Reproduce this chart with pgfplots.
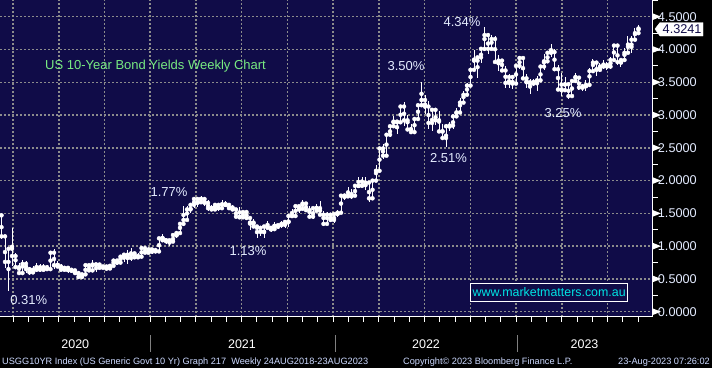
\documentclass[border=0pt]{standalone}
\usepackage{pgfplots}
\pgfplotsset{compat=1.18}
\usepackage{pgfplotstable}
\usepackage{fontspec}
\setmainfont{Liberation Sans}
\definecolor{navy}{RGB}{16,12,72}
\definecolor{gridgray}{RGB}{140,140,140}
\definecolor{annot}{RGB}{228,236,255}
\definecolor{titlegreen}{RGB}{120,235,130}
\definecolor{webcyan}{RGB}{0,228,228}
\definecolor{foot}{RGB}{205,218,255}

\pgfplotstableread{
i o h l c
0 1.47 1.47 1.11 1.15
1 1.15 1.16 0.66 0.76
2 0.76 0.99 0.31 0.96
3 0.96 1.28 0.70 0.85
4 0.85 0.90 0.67 0.68
5 0.68 0.75 0.56 0.59
6 0.59 0.79 0.59 0.73
7 0.73 0.78 0.59 0.65
8 0.65 0.67 0.56 0.60
9 0.60 0.69 0.58 0.64
10 0.64 0.74 0.60 0.68
11 0.68 0.73 0.60 0.64
12 0.64 0.73 0.63 0.66
13 0.66 0.72 0.64 0.65
14 0.65 0.91 0.65 0.90
15 0.90 0.96 0.65 0.71
16 0.71 0.77 0.66 0.69
17 0.69 0.73 0.62 0.64
18 0.64 0.70 0.62 0.67
19 0.67 0.68 0.59 0.64
20 0.64 0.65 0.60 0.63
21 0.63 0.64 0.56 0.59
22 0.59 0.62 0.53 0.53
23 0.53 0.58 0.50 0.57
24 0.57 0.73 0.55 0.71
25 0.71 0.71 0.62 0.63
26 0.63 0.79 0.62 0.72
27 0.72 0.73 0.60 0.72
28 0.72 0.72 0.65 0.67
29 0.67 0.71 0.65 0.69
30 0.69 0.69 0.63 0.66
31 0.66 0.70 0.64 0.70
32 0.70 0.79 0.70 0.78
33 0.78 0.79 0.71 0.75
34 0.75 0.87 0.74 0.84
35 0.84 0.89 0.76 0.87
36 0.87 0.94 0.73 0.82
37 0.82 0.97 0.77 0.89
38 0.89 0.91 0.81 0.83
39 0.83 0.89 0.81 0.84
40 0.84 0.98 0.83 0.97
41 0.97 0.97 0.88 0.90
42 0.90 0.95 0.89 0.95
43 0.95 0.95 0.88 0.94
44 0.94 0.95 0.90 0.92
45 0.92 1.13 0.90 1.12
46 1.12 1.19 1.06 1.09
47 1.09 1.11 1.04 1.09
48 1.09 1.10 1.01 1.07
49 1.07 1.17 1.05 1.17
50 1.17 1.21 1.12 1.20
51 1.20 1.36 1.20 1.34
52 1.34 1.61 1.34 1.40
53 1.40 1.62 1.38 1.56
54 1.56 1.64 1.50 1.63
55 1.63 1.75 1.58 1.72
56 1.72 1.72 1.60 1.67
57 1.67 1.77 1.67 1.72
58 1.72 1.74 1.61 1.66
59 1.66 1.70 1.53 1.58
60 1.58 1.63 1.53 1.56
61 1.56 1.66 1.54 1.63
62 1.63 1.63 1.53 1.58
63 1.58 1.70 1.58 1.63
64 1.63 1.69 1.60 1.63
65 1.63 1.63 1.55 1.58
66 1.58 1.63 1.55 1.56
67 1.56 1.57 1.43 1.45
68 1.45 1.59 1.44 1.44
69 1.44 1.53 1.42 1.52
70 1.52 1.52 1.42 1.43
71 1.43 1.44 1.25 1.36
72 1.36 1.42 1.27 1.30
73 1.30 1.30 1.13 1.28
74 1.28 1.30 1.15 1.22
75 1.22 1.30 1.13 1.30
76 1.30 1.38 1.27 1.28
77 1.28 1.29 1.22 1.26
78 1.26 1.37 1.25 1.31
79 1.31 1.33 1.26 1.32
80 1.32 1.38 1.28 1.34
81 1.34 1.38 1.27 1.37
82 1.37 1.46 1.29 1.46
83 1.46 1.56 1.45 1.46
84 1.46 1.62 1.46 1.61
85 1.61 1.62 1.50 1.57
86 1.57 1.70 1.56 1.65
87 1.65 1.67 1.52 1.55
88 1.55 1.61 1.43 1.45
89 1.45 1.59 1.41 1.58
90 1.58 1.64 1.53 1.54
91 1.54 1.69 1.47 1.48
92 1.48 1.53 1.33 1.34
93 1.34 1.52 1.34 1.48
94 1.48 1.48 1.38 1.40
95 1.40 1.50 1.36 1.49
96 1.49 1.55 1.44 1.51
97 1.51 1.80 1.50 1.77
98 1.77 1.80 1.70 1.77
99 1.77 1.90 1.74 1.76
100 1.76 1.87 1.72 1.77
101 1.77 1.93 1.75 1.92
102 1.92 2.06 1.90 1.92
103 1.92 2.06 1.91 1.93
104 1.93 2.05 1.85 1.97
105 1.97 1.97 1.68 1.73
106 1.73 2.01 1.71 2.00
107 2.00 2.24 1.99 2.15
108 2.15 2.50 2.14 2.49
109 2.49 2.56 2.33 2.38
110 2.38 2.72 2.38 2.70
111 2.70 2.84 2.66 2.83
112 2.83 2.98 2.80 2.90
113 2.90 2.92 2.71 2.89
114 2.89 3.13 2.88 3.13
115 3.13 3.20 2.84 2.92
116 2.92 3.00 2.78 2.78
117 2.78 2.86 2.71 2.74
118 2.74 2.96 2.73 2.94
119 2.94 3.16 2.94 3.15
120 3.15 3.50 3.15 3.23
121 3.23 3.31 3.01 3.13
122 3.13 3.21 2.79 2.88
123 2.88 3.10 2.75 3.08
124 3.08 3.08 2.85 2.92
125 2.92 3.06 2.74 2.75
126 2.75 2.86 2.64 2.65
127 2.65 2.86 2.51 2.83
128 2.83 2.90 2.75 2.84
129 2.84 3.00 2.78 2.98
130 2.98 3.11 2.95 3.04
131 3.04 3.26 3.04 3.19
132 3.19 3.36 3.19 3.31
133 3.31 3.49 3.29 3.45
134 3.45 3.71 3.45 3.69
135 3.69 4.00 3.69 3.83
136 3.83 3.89 3.57 3.88
137 3.88 4.04 3.80 4.01
138 4.01 4.34 3.98 4.22
139 4.22 4.25 3.93 4.01
140 4.01 4.22 3.99 4.16
141 4.16 4.21 3.80 3.81
142 3.81 3.91 3.67 3.83
143 3.83 3.86 3.67 3.68
144 3.68 3.75 3.42 3.49
145 3.49 3.62 3.41 3.58
146 3.58 3.61 3.40 3.48
147 3.48 3.76 3.48 3.75
148 3.75 3.90 3.71 3.87
149 3.87 3.88 3.55 3.56
150 3.56 3.62 3.41 3.50
151 3.50 3.55 3.32 3.48
152 3.48 3.55 3.45 3.50
153 3.50 3.60 3.37 3.53
154 3.53 3.74 3.50 3.74
155 3.74 3.93 3.68 3.82
156 3.82 3.96 3.80 3.95
157 3.95 4.09 3.89 3.96
158 3.96 4.01 3.68 3.70
159 3.70 3.76 3.37 3.39
160 3.39 3.64 3.29 3.38
161 3.38 3.58 3.35 3.47
162 3.47 3.49 3.25 3.29
163 3.29 3.52 3.29 3.52
164 3.52 3.64 3.52 3.57
165 3.57 3.58 3.38 3.42
166 3.42 3.47 3.37 3.44
167 3.44 3.53 3.37 3.46
168 3.46 3.72 3.46 3.67
169 3.67 3.86 3.67 3.80
170 3.80 3.81 3.59 3.69
171 3.69 3.79 3.66 3.74
172 3.74 3.84 3.70 3.76
173 3.76 3.81 3.69 3.74
174 3.74 3.88 3.70 3.84
175 3.84 4.09 3.82 4.06
176 4.06 4.06 3.76 3.81
177 3.81 3.86 3.74 3.84
178 3.84 4.02 3.82 3.95
179 3.95 4.20 3.95 4.04
180 4.04 4.20 3.95 4.15
181 4.15 4.33 4.14 4.25
182 4.25 4.37 4.24 4.32
}\ohlc

\begin{document}
\begin{tikzpicture}
\useasboundingbox (0,0) rectangle (712pt,-368pt);
\fill[black] (0,0) rectangle (712pt,-368pt);
\begin{axis}[
  at={(0pt,0pt)}, anchor=north west,
  scale only axis, width=652.7pt, height=316.7pt,
  xmin=-0.43, xmax=186.06, ymin=-0.076, ymax=4.755,
  axis background/.style={fill=navy},
  axis x line*=bottom, axis y line*=right,
  axis line style={white, line width=1pt},
  xtick={3.286,16.356,...,185}, xticklabels={},
  minor xtick={3.286,7.643,...,185},
  ytick={0,0.5,...,4.5},
  yticklabels={0.0000,0.5000,1.0000,1.5000,2.0000,2.5000,3.0000,3.5000,4.0000,4.5000},
  minor ytick={0.25,0.75,...,4.75},
  tick align=outside,
  major tick length=5pt, minor tick length=5pt,
  tick style={white, line width=1pt},
  xmajorgrids, ymajorgrids,
  major grid style={gridgray, line width=1.5pt, dash pattern=on 1.5pt off 2.5pt},
  yticklabel style={text=annot, font=\fontsize{12.7}{14}\selectfont, anchor=west, inner sep=0pt, xshift=0pt},
  clip=false,
]
\addplot[white, only marks, mark=none, forget plot,
  error bars/.cd, y dir=both, y explicit, error mark=none,
  error bar style={color=white, line width=1pt, solid}]
  table[x=i, y expr={(\thisrow{h}+\thisrow{l})/2}, y error expr={(\thisrow{h}-\thisrow{l})/2}] {\ohlc};
\addplot[white, only marks, mark=none, forget plot,
  error bars/.cd, x dir=minus, x fixed=0.5, error mark=none,
  error bar style={color=white, line width=1pt, solid}]
  table[x=i, y=o] {\ohlc};
\addplot[white, only marks, mark=none, forget plot,
  error bars/.cd, x dir=plus, x fixed=0.5, error mark=none,
  error bar style={color=white, line width=1pt, solid}]
  table[x=i, y=c] {\ohlc};
\end{axis}
% right-axis pointers
\foreach \v in {0,...,9}{
  \pgfmathsetmacro\yy{-311.7+\v*32.78}
  \fill[white] (653pt,{\yy pt+3.2pt}) -- (661pt,{\yy pt}) -- (653pt,{\yy pt-3.2pt}) -- cycle;
}
% last price box
\filldraw[white] (655pt,-29pt) -- (660pt,-22.5pt) -- (703pt,-22.5pt) -- (703pt,-36pt) -- (660pt,-36pt) -- cycle;
\node[text=navy, font=\fontsize{12.7}{14}\selectfont, anchor=west, inner sep=0pt] at (662.5pt,-29.3pt) {4.3241};
% annotations
\begin{scope}[every node/.style={text=annot, font=\fontsize{13}{15}\selectfont, inner sep=0pt}]
\node at (462pt,-21.7pt) {4.34\%};
\node at (406pt,-65.7pt) {3.50\%};
\node at (448.5pt,-157.7pt) {2.51\%};
\node at (169pt,-191.7pt) {1.77\%};
\node at (248pt,-251pt) {1.13\%};
\node at (28.7pt,-300pt) {0.31\%};
\node at (563pt,-112.7pt) {3.25\%};
\end{scope}
\node[text=titlegreen, font=\fontsize{13}{15}\selectfont, anchor=west, inner sep=0pt] at (45pt,-66pt) {US 10-Year Bond Yields Weekly Chart};
\node[draw=white, line width=1pt, fill=navy, text=webcyan, font=\fontsize{12.4}{14}\selectfont, minimum width=157pt, minimum height=18.4pt, inner sep=0pt] at (549.2pt,-292.5pt) {www.marketmatters.com.au};
% year labels
\begin{scope}[every node/.style={text=white, font=\fontsize{12.5}{14}\selectfont, inner sep=0pt}]
\node at (75.3pt,-344pt) {2020};
\node at (242pt,-344pt) {2021};
\node at (426pt,-344pt) {2022};
\node at (584.5pt,-344pt) {2023};
\end{scope}
\foreach \xx in {150.7,335,517}{\draw[gray, line width=1pt] (\xx pt,-335pt) -- (\xx pt,-352pt);}
% footer
\begin{scope}[every node/.style={text=foot, font=\fontsize{9.2}{11}\selectfont, inner sep=0pt}]
\node[anchor=base west] at (2pt,-364.5pt) {USGG10YR Index (US Generic Govt 10 Yr) Graph 217\ \ Weekly 24AUG2018-23AUG2023};
\node[anchor=base west] at (403pt,-364.5pt) {Copyright© 2023 Bloomberg Finance L.P.};
\node[anchor=base east] at (710pt,-364.5pt) {23-Aug-2023 07:26:02};
\end{scope}
\end{tikzpicture}
\end{document}
